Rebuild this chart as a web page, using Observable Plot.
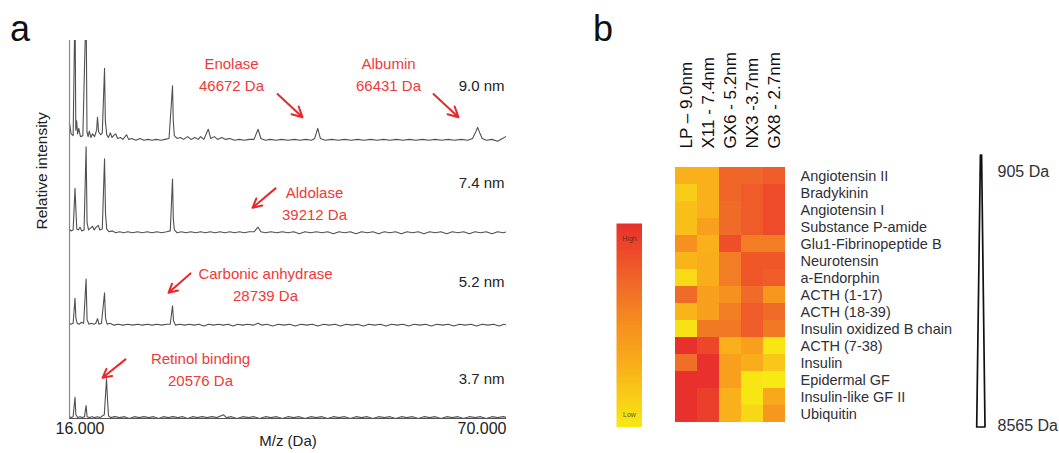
<!DOCTYPE html>
<html><head><meta charset="utf-8">
<script src="https://cdn.jsdelivr.net/npm/d3@7"></script>
<script src="https://cdn.jsdelivr.net/npm/@observablehq/plot@0.6"></script>
<style>
body{margin:0;background:#fff;width:1059px;height:453px;overflow:hidden;position:relative;font-family:"Liberation Sans",Arial,sans-serif}
.abs{position:absolute}
.panel{position:absolute;font-size:36px;line-height:36px;color:#111}
</style></head><body>
<div class="panel" style="left:10px;top:11px">a</div>
<div class="panel" style="left:593px;top:11px">b</div>
<div id="pa" class="abs" style="left:0;top:0"></div>
<div id="pb" class="abs" style="left:600px;top:0"></div>
<div id="pl" class="abs" style="left:616px;top:223px"></div>
<div id="pw" class="abs" style="left:950px;top:0"></div>
<script>
// ---------- Panel a: MALDI spectra (M/z in Da, relative intensity) ----------
const spec90 = [[16000,20],[16200,8],[16450,6],[16680,150],[16780,12],[16880,22],[17000,8],[17150,14],[17350,5],[17650,6],[18050,150],[18160,10],[18300,5],[18450,11],[18650,4],[18850,8],[19100,5],[19350,12],[19460,26],[19600,10],[19850,7],[20050,9],[20330,79],[20430,22],[20600,7],[20800,4],[21050,9],[21250,4],[21450,6],[21700,8],[21950,3],[22300,4],[22600,2],[23050,7],[23300,2],[23700,3],[24200,1],[24700,3],[25200,1],[25700,2],[26200,1],[26700,2],[27300,1],[27800,2],[28300,3],[28730,60],[28820,23],[28950,6],[29300,3],[29700,4],[30100,2],[30600,5],[31000,2],[31500,4],[31900,2],[32200,5],[32600,2],[33150,13],[33450,3],[33900,5],[34300,2],[34800,4],[35300,2],[35800,3],[36400,1],[37000,2],[37600,1],[38200,2],[38800,2],[39300,13],[39650,3],[40200,1],[40800,2],[41500,1],[42200,2],[43000,1],[43800,2],[44500,1],[45200,2],[45900,1],[46300,3],[46672,14],[47000,3],[47600,1],[48400,2],[49200,1],[50000,2],[50800,1],[51600,2],[52400,1],[53200,2],[54000,1],[54800,2],[55600,1],[56400,2],[57200,1],[58000,2],[58800,1],[59600,2],[60400,1],[61200,2],[62000,1],[62800,2],[63600,1],[64400,2],[65200,1],[65800,3],[66200,10],[66431,15],[66700,9],[67000,3],[67500,1],[68200,2],[68900,0],[69500,3],[69900,5]];
const spec74 = [[16000,5],[16200,3],[16450,4],[16680,49],[16790,26],[16900,5],[17100,4],[17300,7],[17500,3],[17800,4],[18050,94],[18170,12],[18350,4],[18600,6],[18850,8],[19050,4],[19300,7],[19550,9],[19750,4],[20050,5],[20330,81],[20450,22],[20600,5],[20900,2],[21300,3],[21700,1],[22200,2],[22700,1],[23200,2],[23800,1],[24400,2],[25000,1],[25600,2],[26200,1],[26800,2],[27400,1],[28000,2],[28450,3],[28730,59],[28830,16],[28950,4],[29300,1],[29800,2],[30400,1],[31000,2],[31600,1],[32200,2],[32800,1],[33400,2],[34000,1],[34600,2],[35200,1],[35800,2],[36400,1],[37000,2],[37600,1],[38200,2],[38800,2],[39300,7],[39650,2],[40200,1],[40900,2],[41600,1],[42300,2],[43000,1],[43700,2],[44400,0],[45100,2],[45800,1],[46500,2],[47200,1],[47900,2],[48600,0],[49300,2],[50000,1],[50700,2],[51400,0],[52100,2],[52800,1],[53500,2],[54200,0],[54900,2],[55600,1],[56300,2],[57000,0],[57700,2],[58400,1],[59100,2],[59800,0],[60500,2],[61200,1],[61900,2],[62600,0],[63300,2],[64000,1],[64700,2],[65400,0],[66100,2],[66800,1],[67500,2],[68200,0],[68900,2],[69600,1],[70000,2]];
const spec52 = [[16000,3],[16200,2],[16450,3],[16680,30],[16790,9],[16950,3],[17200,2],[17450,4],[17750,3],[18050,51],[18170,7],[18400,2],[18700,3],[19000,2],[19250,3],[19460,8],[19650,2],[19950,3],[20330,36],[20450,9],[20650,2],[21000,3],[21500,1],[22000,2],[22600,1],[23200,2],[23800,1],[24400,2],[25000,1],[25600,2],[26200,1],[26800,2],[27400,1],[28000,2],[28450,2],[28730,22],[28850,6],[29100,1],[29600,2],[30200,1],[30800,2],[31400,1],[32000,2],[32600,0],[33200,2],[33800,1],[34400,2],[35000,1],[35600,2],[36200,0],[36800,2],[37400,1],[38000,2],[38700,1],[39300,3],[39800,1],[40400,2],[41100,0],[41800,2],[42500,1],[43200,2],[43900,0],[44600,2],[45300,1],[46000,2],[46700,0],[47400,2],[48100,1],[48800,2],[49500,0],[50200,2],[50900,1],[51600,2],[52300,0],[53000,2],[53700,1],[54400,2],[55100,0],[55800,2],[56500,1],[57200,2],[57900,0],[58600,2],[59300,1],[60000,2],[60700,0],[61400,2],[62100,1],[62800,2],[63500,0],[64200,2],[64900,1],[65600,2],[66300,0],[67000,2],[67700,1],[68400,2],[69100,0],[69700,2],[70000,1]];
const spec37 = [[16000,2],[16200,1],[16450,2],[16680,23],[16790,4],[17000,1],[17300,2],[17600,1],[17850,2],[18050,14],[18170,2],[18450,1],[18800,2],[19100,1],[19450,2],[19800,1],[20100,3],[20300,4],[20576,43],[20700,20],[20820,3],[21100,1],[21600,2],[22200,1],[22800,2],[23400,0],[24000,2],[24600,1],[25200,2],[25800,1],[26400,2],[27000,0],[27600,2],[28200,1],[28800,2],[29400,1],[30000,2],[30600,0],[31200,2],[31800,1],[32400,2],[33000,1],[33600,2],[34200,1],[35030,4],[35400,1],[36000,2],[36700,0],[37400,2],[38100,1],[38800,2],[39500,0],[40200,2],[40900,1],[41600,2],[42300,0],[43000,2],[43700,1],[44400,2],[45100,0],[45800,2],[46500,1],[47200,2],[47900,0],[48600,2],[49300,1],[50000,2],[50700,0],[51400,2],[52100,1],[52800,2],[53500,0],[54200,2],[54900,1],[55600,2],[56300,0],[57000,2],[57700,1],[58400,2],[59100,0],[59800,2],[60500,1],[61200,2],[61900,0],[62600,2],[63300,1],[64000,2],[64700,0],[65400,2],[66100,1],[66800,2],[67500,0],[68200,2],[68900,1],[69600,2],[70000,1]];

const spectrumLabels = ["9.0 nm", "7.4 nm", "5.2 nm", "3.7 nm"];
const spectrumOffsets = [300, 200, 100, 0];
const spectrumLabelLevels = [60, 55, 47, 42];
const spectrumPoints = [spec90, spec74, spec52, spec37];

const xTickValues = [16000, 70000];
const xTickLabels = ["16.000", "70.000"];

// annotated proteins
const protNames = ["Enolase", "Albumin", "Aldolase", "Carbonic anhydrase", "Retinol binding"];
const protMasses = [46672, 66431, 39212, 28739, 20576];
const protLabelX = [36018, 55419, 46275, 40220, 32188];
const protLabelY = [374, 374, 234, 147, 55];
const protArrowFrom = [[41703, 351], [60980, 351], [41456, 249], [30952, 157], [22920, 64]];
const protArrowTo = [[44792, 326], [64069, 326], [38614, 228], [28234, 136], [20078, 44]];

const lineRows = [];
spectrumPoints.forEach((pts, i) => pts.forEach(([mz, v]) => lineRows.push({series: spectrumLabels[i], mz, y: spectrumOffsets[i] + v})));
const spectra = spectrumLabels.map((label, i) => ({label, level: spectrumOffsets[i] + spectrumLabelLevels[i]}));
const annots = protNames.map((name, i) => ({
  name, mass: protMasses[i], lx: protLabelX[i], ly: protLabelY[i],
  x1: protArrowFrom[i][0], y1: protArrowFrom[i][1], x2: protArrowTo[i][0], y2: protArrowTo[i][1]
}));

const font = "Liberation Sans, Arial, Helvetica, sans-serif";

const plotA = Plot.plot({
  width: 520, height: 453,
  marginLeft: 69, marginRight: 14, marginTop: 40, marginBottom: 35,
  x: {domain: [16000, 70000], axis: null},
  y: {domain: [0, 409], axis: null},
  style: {fontFamily: font, fontSize: "15px", background: "transparent", color: "#222"},
  marks: [
    Plot.line(lineRows, {x: "mz", y: "y", z: "series", stroke: "#505050", strokeWidth: 1.1, clip: true}),
    Plot.ruleX([16000], {stroke: "#8a8a8a", strokeWidth: 1.2}),
    Plot.ruleY([0], {stroke: "#555", strokeWidth: 1.2}),
    Plot.text([xTickValues[0]], {x: d => d, text: () => xTickLabels[0], frameAnchor: "bottom", dy: 15, textAnchor: "start", dx: -14, fontSize: 16}),
    Plot.text([xTickValues[1]], {x: d => d, text: () => xTickLabels[1], frameAnchor: "bottom", dy: 15, textAnchor: "end", fontSize: 16}),
    Plot.text(["M/z (Da)"], {frameAnchor: "bottom", dy: 27, fontSize: 15}),
    Plot.text(["Relative intensity"], {frameAnchor: "left", rotate: -90, dx: -27, fontSize: 15.5}),
    Plot.text(spectra, {y: "level", text: "label", frameAnchor: "right", textAnchor: "end", dx: -2, fontSize: 15, fill: "#222"}),
    Plot.text(annots, {x: "lx", y: "ly", text: d => `${d.name}\n${d.mass} Da`, lineHeight: 1.47, fontSize: 15, fill: "#ee3a3a"}),
    Plot.arrow(annots, {x1: "x1", y1: "y1", x2: "x2", y2: "y2", stroke: "#e8282a", strokeWidth: 2, headLength: 9, headAngle: 55})
  ]
});
document.getElementById("pa").append(plotA);

// ---------- Panel b: heatmap ----------
const peptides = ["Angiotensin II", "Bradykinin", "Angiotensin I", "Substance P-amide", "Glu1-Fibrinopeptide B", "Neurotensin", "a-Endorphin", "ACTH (1-17)", "ACTH (18-39)", "Insulin oxidized B chain", "ACTH (7-38)", "Insulin", "Epidermal GF", "Insulin-like GF II", "Ubiquitin"];
const columns = ["LP – 9.0nm", "X11 - 7.4nm", "GX6 - 5.2nm", "NX3 -3.7nm", "GX8 - 2.7nm"];
const lp90 = [0.30, 0.15, 0.22, 0.22, 0.50, 0.28, 0.08, 0.70, 0.28, 0.04, 1.00, 0.68, 1.00, 1.00, 1.00];
const x1174 = [0.30, 0.30, 0.30, 0.40, 0.30, 0.32, 0.32, 0.40, 0.40, 0.62, 0.88, 1.00, 1.00, 0.93, 0.93];
const gx652 = [0.72, 0.72, 0.70, 0.70, 0.84, 0.60, 0.60, 0.50, 0.60, 0.62, 0.30, 0.40, 0.40, 0.30, 0.30];
const nx337 = [0.72, 0.77, 0.77, 0.77, 0.60, 0.80, 0.80, 0.70, 0.77, 0.77, 0.40, 0.32, 0.02, 0.02, 0.10];
const gx827 = [0.78, 0.86, 0.86, 0.86, 0.60, 0.80, 0.78, 0.45, 0.70, 0.62, 0.02, 0.18, 0.00, 0.35, 0.45];
const columnValues = [lp90, x1174, gx652, nx337, gx827];

const colorDomain = [0, 0.3, 0.5, 0.7, 0.85, 1];
const colorRange = ["#f7ea14", "#f9b01a", "#f6901f", "#f06a28", "#ee4d2a", "#e8302c"];

const cells = columns.flatMap((col, j) => peptides.map((pep, i) => ({col, pep, value: columnValues[j][i]})));

const plotB = Plot.plot({
  width: 459, height: 453,
  marginLeft: 73, marginRight: 273, marginTop: 162, marginBottom: 26,
  x: {domain: columns, padding: 0},
  y: {domain: peptides, padding: 0},
  color: {type: "linear", domain: colorDomain, range: colorRange},
  style: {fontFamily: font, fontSize: "14.5px", background: "transparent", color: "#2f2f38"},
  marks: [
    Plot.cell(cells, {x: "col", y: "pep", fill: "value", inset: 0}),
    Plot.axisX({anchor: "top", tickRotate: -90, tickSize: 0, tickPadding: 14, fontSize: 17, label: null, fill: "#111"}),
    Plot.axisY({anchor: "right", tickSize: 0, tickPadding: 14, label: null})
  ]
});
document.getElementById("pb").append(plotB);

// colour ramp legend (High / Low)
const legendLabels = ["High", "Low"];
const plotL = Plot.plot({
  width: 26, height: 204, margin: 0,
  x: {domain: [0, 1], axis: null},
  y: {domain: [0, 1], axis: null},
  color: {type: "linear", domain: colorDomain, range: colorRange},
  style: {fontFamily: font, background: "transparent"},
  marks: [
    Plot.raster({x1: 0, x2: 1, y1: 0, y2: 1, width: 2, height: 120, fill: (x, y) => y, imageRendering: "auto"}),
    Plot.text([legendLabels[0]], {frameAnchor: "top", dy: 13, fontSize: 7, fill: "#7a2a10"}),
    Plot.text([legendLabels[1]], {frameAnchor: "bottom", dy: -11, fontSize: 7, fill: "#6a5a10"})
  ]
});
document.getElementById("pl").append(plotL);

// mass-range wedge
const wedgeMass = [905, 8565];
const wedgeLeft = [-0.6, -4.3];
const wedgeRight = [0.6, 4];
const wedge = wedgeMass.map((mass, i) => ({mass, lo: wedgeLeft[i], hi: wedgeRight[i], label: `${mass} Da`}));
const plotW = Plot.plot({
  width: 109, height: 453,
  marginLeft: 0, marginRight: 0, marginTop: 155, marginBottom: 26,
  x: {domain: [-31, 78], axis: null},
  y: {domain: [8565, 905], axis: null},
  style: {fontFamily: font, fontSize: "16px", background: "transparent", color: "#2f2f38"},
  marks: [
    Plot.areaX(wedge, {y: "mass", x1: "lo", x2: "hi", fill: "white", stroke: "#111", strokeWidth: 1.7}),
    Plot.text([wedge[0]], {x: () => 0, y: "mass", text: "label", textAnchor: "start", dx: 16, dy: 16}),
    Plot.text([wedge[1]], {x: () => 0, y: "mass", text: "label", textAnchor: "start", dx: 16, dy: -2})
  ]
});
document.getElementById("pw").append(plotW);
</script>
</body></html>
